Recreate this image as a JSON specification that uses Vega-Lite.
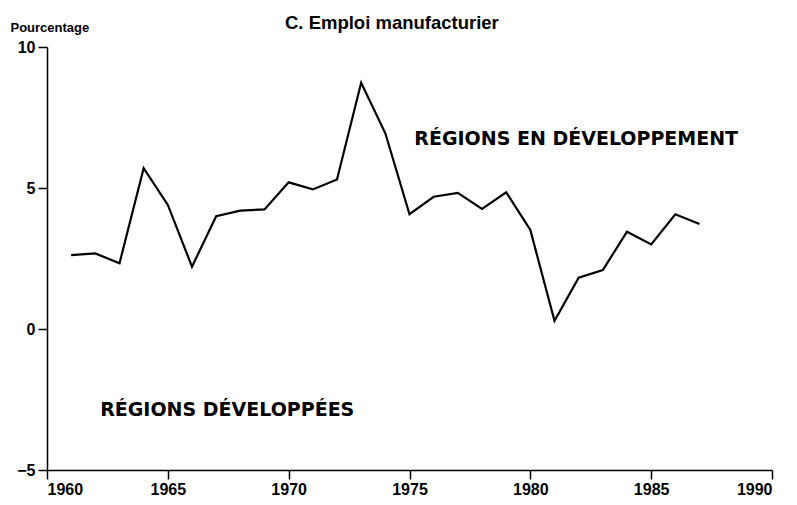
{
  "$schema": "https://vega.github.io/schema/vega-lite/v6.json",
  "width": 725,
  "height": 423,
  "autosize": {"type": "none"},
  "padding": {"left": 47, "top": 47, "right": 25, "bottom": 35},
  "background": "white",
  "config": {
    "view": {"stroke": null},
    "font": "Liberation Sans",
    "axis": {"grid": false, "domainColor": "black", "tickColor": "black", "labelColor": "black", "titleColor": "black", "labelFont": "Liberation Sans", "labelFontWeight": "bold", "labelFontSize": 16, "domainWidth": 1.5, "tickWidth": 1.5}
  },
  "title": {"text": "C.  Emploi manufacturier", "anchor": "start", "dx": 275, "offset": -11, "fontSize": 18.5, "fontWeight": "bold", "font": "Liberation Sans", "color": "black"},
  "datasets": {
    "series": [
      {"year": 1961, "value": 2.62},
      {"year": 1962, "value": 2.68},
      {"year": 1963, "value": 2.33},
      {"year": 1964, "value": 5.70},
      {"year": 1965, "value": 4.40},
      {"year": 1966, "value": 2.21},
      {"year": 1967, "value": 4.00},
      {"year": 1968, "value": 4.20},
      {"year": 1969, "value": 4.24},
      {"year": 1970, "value": 5.20},
      {"year": 1971, "value": 4.95},
      {"year": 1972, "value": 5.30},
      {"year": 1973, "value": 8.73},
      {"year": 1974, "value": 6.94},
      {"year": 1975, "value": 4.07},
      {"year": 1976, "value": 4.69},
      {"year": 1977, "value": 4.83},
      {"year": 1978, "value": 4.26},
      {"year": 1979, "value": 4.85},
      {"year": 1980, "value": 3.51},
      {"year": 1981, "value": 0.29},
      {"year": 1982, "value": 1.82},
      {"year": 1983, "value": 2.09},
      {"year": 1984, "value": 3.45},
      {"year": 1985, "value": 3.00},
      {"year": 1986, "value": 4.07},
      {"year": 1987, "value": 3.72}
    ],
    "labels": [
      {"label": "RÉGIONS EN DÉVELOPPEMENT", "year": 1975.2, "value": 6.72},
      {"label": "RÉGIONS DÉVELOPPÉES", "year": 1962.2, "value": -2.87}
    ]
  },
  "layer": [
    {
      "mark": {"type": "rule", "color": "black", "strokeWidth": 2},
      "encoding": {"y": {"datum": 0, "type": "quantitative", "scale": {"domain": [-5, 10], "nice": false}}}
    },
    {
      "data": {"name": "series"},
      "mark": {"type": "line", "color": "black", "strokeWidth": 2.2},
      "encoding": {
        "x": {"field": "year", "type": "quantitative", "scale": {"domain": [1960, 1990], "nice": false, "zero": false},
              "axis": {"values": [1960, 1965, 1970, 1975, 1980, 1985, 1990], "format": "d", "title": null, "tickSize": 9, "labelPadding": 2}},
        "y": {"field": "value", "type": "quantitative", "scale": {"domain": [-5, 10], "nice": false},
              "axis": {"values": [-5, 0, 5, 10], "format": "d", "tickSize": 9, "labelPadding": 3,
                       "title": "Pourcentage", "titleAngle": 0, "titleAlign": "left", "titleBaseline": "middle", "titleX": -37, "titleY": -20, "titleFontSize": 13, "titleFontWeight": "bold"}}
      }
    },
    {
      "data": {"name": "labels"},
      "mark": {"type": "text", "align": "left", "baseline": "middle", "fontSize": 19, "fontWeight": "bold", "font": "DejaVu Sans", "color": "black"},
      "encoding": {
        "x": {"field": "year", "type": "quantitative"},
        "y": {"field": "value", "type": "quantitative"},
        "text": {"field": "label"}
      }
    }
  ]
}
